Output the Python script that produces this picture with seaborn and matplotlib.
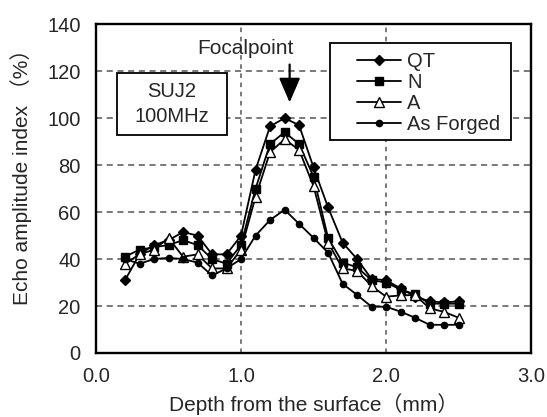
import matplotlib
matplotlib.use("Agg")
import matplotlib.pyplot as plt
from matplotlib.patches import Rectangle
import seaborn as sns
import pandas as pd

depth = [0.2, 0.3, 0.4, 0.5, 0.6, 0.7, 0.8, 0.9, 1.0, 1.1, 1.2, 1.3,
         1.4, 1.5, 1.6, 1.7, 1.8, 1.9, 2.0, 2.1, 2.2, 2.3, 2.4, 2.5]
qt = [31, 42, 46, 48, 51.5, 50, 42, 42, 50, 78, 96.5, 100,
      97, 79, 62, 47, 40, 31.5, 31, 27.5, 24, 22, 21.5, 22]
n = [41, 44, 45, 46, 48, 46, 40, 38, 46, 70, 89, 94,
     89, 75, 49, 38.5, 36.5, 31, 30, 27, 25, 21, 21, 21]
a = [38, 42, 44, 49, 41, 42, 36, 36, 44, 66.5, 85.5, 91,
     86.5, 71, 47, 36, 35, 28.5, 24, 24.5, 24.7, 19, 17.5, 15]
as_forged = [40, 38, 40, 40.5, 40, 38.5, 33, 36, 40, 50, 56.6, 61,
             55, 49, 42.7, 29.5, 24.7, 19.7, 19.7, 17.6, 15, 12, 12, 12]

series_names = ["QT", "N", "A", "As Forged"]
series_values = [qt, n, a, as_forged]
xticks = [0.0, 1.0, 2.0, 3.0]
yticks = [0, 20, 40, 60, 80, 100, 120, 140]

sns.set_style("white")
plt.rcParams['font.family'] = ['Liberation Sans', 'Noto Sans CJK JP', 'DejaVu Sans']

fig = plt.figure(figsize=(5.47, 4.17), dpi=100)
ax = fig.add_axes([0.1755, 0.1535, 0.7955, 0.7885])

styles = {
    "QT": dict(marker="D", markersize=5, markerfacecolor="black"),
    "N": dict(marker="s", markersize=5.5, markerfacecolor="black"),
    "A": dict(marker="^", markersize=6.5, markerfacecolor="white"),
    "As Forged": dict(marker="o", markersize=4.5, markerfacecolor="black"),
}

for name, vals in zip(series_names, series_values):
    df = pd.DataFrame({"depth": depth, "value": vals})
    sns.lineplot(data=df, x="depth", y="value", ax=ax, color="black",
                 linewidth=1.3, markeredgecolor="black", markeredgewidth=1.0,
                 label=name, **styles[name])

ax.set_xlim(0, 3.0)
ax.set_ylim(0, 140)
ax.set_xticks(xticks)
ax.set_xticklabels([f"{t:.1f}" for t in xticks])
ax.set_yticks(yticks)
ax.tick_params(axis="both", labelsize=14.5, direction="in", length=4, color="black")
ax.tick_params(axis="y", pad=11)
ax.tick_params(axis="x", pad=10)

for yv in yticks[1:-1]:
    ax.axhline(yv, color="#555555", linestyle=(0, (4, 3)), linewidth=1.1, zorder=0)
for xv in xticks[1:-1]:
    ax.axvline(xv, color="#555555", linestyle=(0, (3, 3)), linewidth=1.1, zorder=0)

for sp in ax.spines.values():
    sp.set_color("black")
    sp.set_linewidth(1.7)

ax.set_xlabel("Depth from the surface（mm）", fontsize=15, labelpad=5)
ax.set_ylabel("Echo amplitude index （%）", fontsize=15)
ax.yaxis.set_label_coords(-0.148, 0.55)

# legend with a hand-sized frame
leg = ax.legend(loc="upper left", bbox_to_anchor=(0.579, 0.942), borderaxespad=0,
                fontsize=14.5, frameon=False,
                handlelength=2.2, handletextpad=0.3, labelspacing=0.1,
                borderpad=0.45)
ax.add_patch(Rectangle((0.538, 0.647), 0.416, 0.295, transform=ax.transAxes,
                       facecolor="white", edgecolor="black", linewidth=1.3, zorder=4))
leg.set_zorder(5)

# SUJ2 box
ax.add_patch(Rectangle((0.048, 0.663), 0.253, 0.188, transform=ax.transAxes,
                       facecolor="white", edgecolor="black", linewidth=1.3, zorder=4))
ax.text(0.1747, 0.757, "SUJ2\n100MHz", fontsize=14.5, ha="center", va="center",
        linespacing=1.4, transform=ax.transAxes, zorder=5)

ax.annotate("", xy=(1.335, 105.5), xytext=(1.335, 124),
            arrowprops=dict(arrowstyle="-|>,head_width=0.65,head_length=1.5",
                            color="black", linewidth=1.6))
ax.text(1.03, 129.8, "Focalpoint", fontsize=15, ha="center", va="center")

fig.savefig("out.png", dpi=100)
